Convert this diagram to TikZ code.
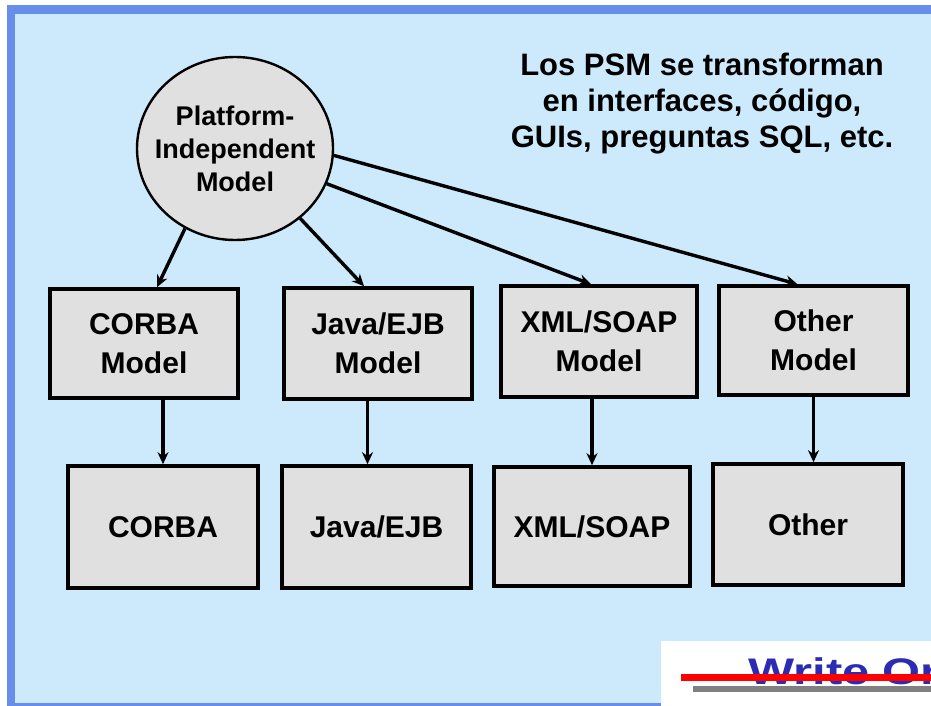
\documentclass[tikz,border=0pt]{standalone}
\usepackage{fontspec}
\setmainfont{Liberation Sans}
\usetikzlibrary{shapes.geometric,arrows.meta}
\definecolor{waku}{RGB}{104,142,236}
\definecolor{haikei}{RGB}{204,234,252}
\definecolor{hako}{RGB}{224,224,224}
\definecolor{aoji}{RGB}{44,44,178}
\tikzset{
 box/.style={draw,line width=3.6pt,fill=hako,inner sep=0pt,align=center,font=\fontsize{30}{39}\selectfont\bfseries},
 arr/.style={-{Stealth[length=12pt,width=11pt]},line width=3.4pt},
}
\begin{document}
\begin{tikzpicture}[x=1pt,y=-1pt]
\clip(0,0)rectangle(931,706);
\fill[white](0,0)rectangle(931,706);%余白
\fill[waku](7,5)rectangle(931,706);%枠
\fill[haikei](15,14)rectangle(931,703);%背景
\node[draw,ellipse,line width=2.4pt,fill=hako,minimum width=196pt,minimum height=183pt,inner sep=0pt](pim)at(235,148.5){};
\node[align=center,inner sep=0pt,font=\fontsize{27}{33}\selectfont\bfseries](pimtxt)at(pim.center){Platform-\\Independent\\Model};
\node[align=center,inner sep=0pt,font=\fontsize{31}{36}\selectfont\bfseries](psm)at(702,103.5){Los PSM se transforman\\en interfaces, código,\\GUIs, preguntas SQL, etc.};
%PSM
\node[box,minimum width=188pt,minimum height=109pt](corbam)at(144,343.5){CORBA\\Model};
\node[box,minimum width=188pt,minimum height=111pt](javam)at(378,343.5){Java/EJB\\Model};
\node[box,minimum width=196pt,minimum height=111pt](xmlm)at(599,341.5){XML/SOAP\\Model};
\node[box,minimum width=189pt,minimum height=109pt](otherm)at(813.5,340.5){Other\\Model};
%実装
\node[box,minimum width=190pt,minimum height=122pt](corba)at(163,527){CORBA};
\node[box,minimum width=189pt,minimum height=122pt](java)at(376.5,527){Java/EJB};
\node[box,minimum width=196pt,minimum height=119pt](xml)at(592,526.5){XML/SOAP};
\node[box,minimum width=190pt,minimum height=121pt](other)at(808,524.5){Other};
%矢印
\draw[arr](pim.238)--([xshift=13pt]corbam.north);
\draw[arr](pim.313)--([xshift=-14pt]javam.north);
\draw[arr](pim.339)--([xshift=-8pt]xmlm.north);
\draw[arr](pim.356)--([xshift=-16pt]otherm.north);
\draw[arr](corba.north|-corbam.south)--(corba.north);
\draw[arr]([xshift=-9pt]java.north|-javam.south)--([xshift=-9pt]java.north);
\draw[arr](xml.north|-xmlm.south)--(xml.north);
\draw[arr](otherm.south)--(otherm.south|-other.north);
%右下
\fill[white](661,641)rectangle(931,706);
\node[anchor=base west,inner sep=0pt,text=aoji,font=\fontsize{37}{40}\selectfont\bfseries](wo)at(748,684){\scalebox{1.32}[1]{Write Or}};
\fill[red](681,674)rectangle(931,681);
\fill[gray](693,686)rectangle(931,692);
\end{tikzpicture}
\end{document}
